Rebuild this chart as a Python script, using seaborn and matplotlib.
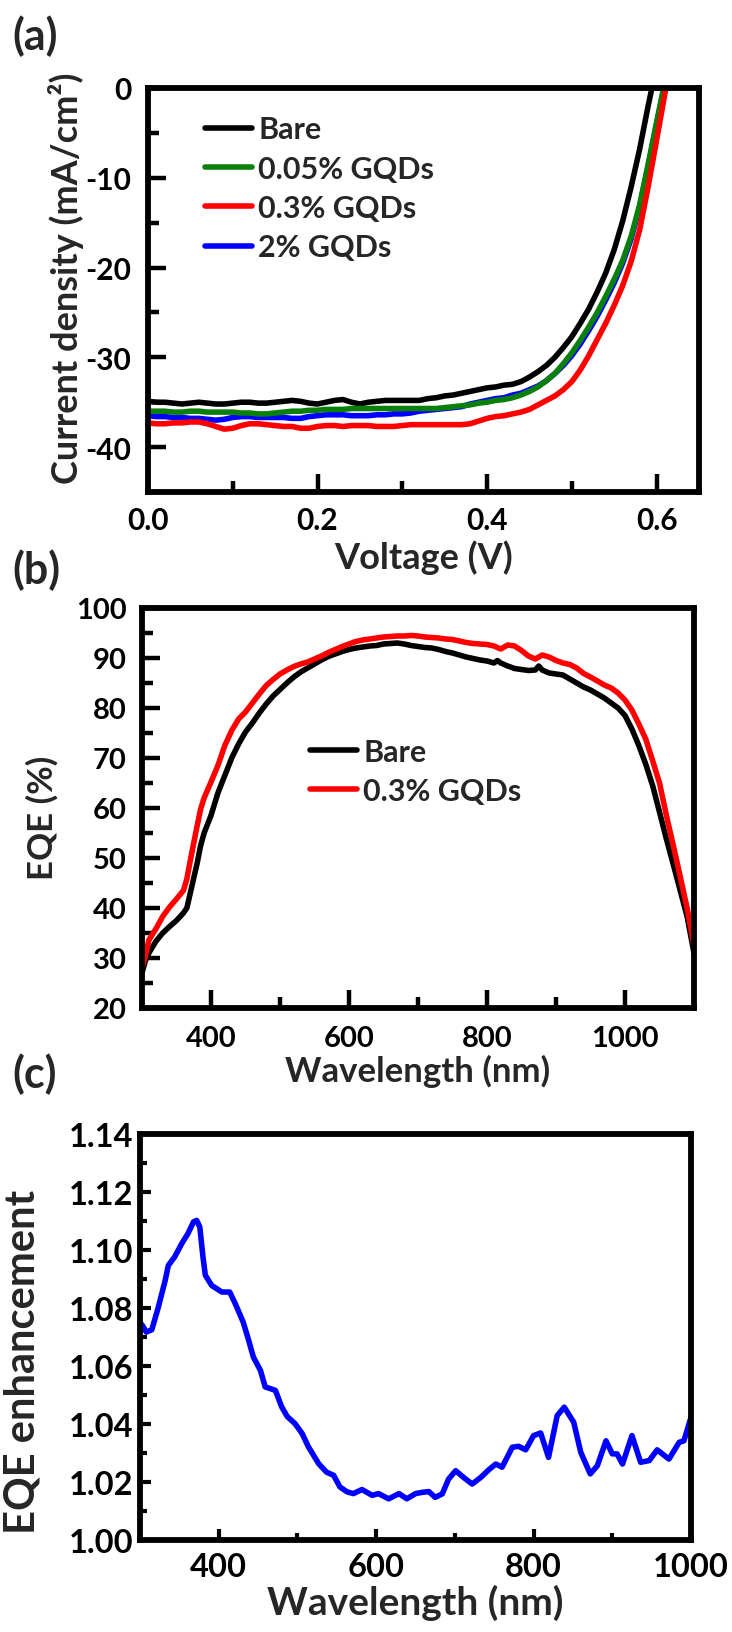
import matplotlib
matplotlib.use("Agg")
import matplotlib.pyplot as plt
import seaborn as sns
import pandas as pd
from matplotlib.ticker import MultipleLocator, FixedLocator, FormatStrFormatter

# ---------------- Panel (a): J-V curves ----------------
voltage = [0.00, 0.01, 0.02, 0.03, 0.04, 0.05, 0.06, 0.07, 0.08, 0.09,
           0.10, 0.11, 0.12, 0.13, 0.14, 0.15, 0.16, 0.17, 0.18, 0.19,
           0.20, 0.21, 0.22, 0.23, 0.24, 0.25, 0.26, 0.27, 0.28, 0.29,
           0.30, 0.31, 0.32, 0.33, 0.34, 0.35, 0.36, 0.37, 0.38, 0.39,
           0.40, 0.41, 0.42, 0.43, 0.44, 0.45, 0.46, 0.47, 0.48, 0.49,
           0.50, 0.51, 0.52, 0.53, 0.54, 0.55, 0.56, 0.57, 0.58, 0.59,
           0.60, 0.61, 0.62]

j_bare = [-34.9, -35.0, -35.0, -35.1, -35.2, -35.1, -35.0, -35.1, -35.2, -35.2,
          -35.1, -35.0, -35.0, -35.1, -35.1, -35.0, -34.9, -34.8, -34.9, -35.1,
          -35.2, -35.0, -34.8, -34.7, -35.0, -35.2, -35.0, -34.9, -34.8, -34.8,
          -34.8, -34.8, -34.8, -34.6, -34.5, -34.3, -34.2, -34.0, -33.8, -33.6,
          -33.4, -33.3, -33.1, -33.0, -32.7, -32.2, -31.6, -30.9, -30.0, -28.9,
          -27.7, -26.2, -24.6, -22.7, -20.6, -18.0, -14.8, -11.0, -6.8, -2.0,
          2.5, 7.0, 11.5]

j_005 = [-36.0, -36.0, -36.0, -36.1, -36.1, -36.0, -36.0, -36.1, -36.1, -36.1,
         -36.1, -36.2, -36.2, -36.3, -36.3, -36.2, -36.1, -36.0, -36.0, -35.9,
         -35.9, -35.8, -35.8, -35.8, -35.7, -35.7, -35.7, -35.7, -35.7, -35.7,
         -35.7, -35.7, -35.7, -35.7, -35.7, -35.6, -35.5, -35.4, -35.3, -35.1,
         -35.0, -34.8, -34.7, -34.5, -34.2, -33.8, -33.3, -32.6, -31.8, -30.7,
         -29.5, -28.1, -26.6, -25.0, -23.2, -21.3, -19.2, -16.5, -13.0, -8.5,
         -3.8, 0.8, 5.5]

j_03 = [-37.3, -37.4, -37.4, -37.3, -37.3, -37.2, -37.2, -37.4, -37.7, -38.0,
        -37.9, -37.6, -37.4, -37.4, -37.5, -37.6, -37.7, -37.7, -37.9, -37.9,
        -37.7, -37.6, -37.6, -37.7, -37.6, -37.6, -37.6, -37.7, -37.7, -37.7,
        -37.6, -37.5, -37.5, -37.5, -37.5, -37.5, -37.5, -37.5, -37.4, -37.1,
        -36.8, -36.6, -36.5, -36.3, -36.1, -35.8, -35.3, -34.8, -34.3, -33.6,
        -32.7, -31.4, -29.8, -28.0, -26.2, -24.2, -22.0, -19.3, -15.8, -11.0,
        -5.8, -0.5, 4.5]

j_2 = [-36.5, -36.6, -36.6, -36.7, -36.7, -36.8, -36.8, -36.9, -37.0, -36.9,
       -36.7, -36.6, -36.6, -36.7, -36.7, -36.7, -36.7, -36.8, -36.8, -36.6,
       -36.5, -36.4, -36.4, -36.4, -36.5, -36.5, -36.5, -36.4, -36.4, -36.3,
       -36.3, -36.2, -36.0, -35.9, -35.8, -35.7, -35.6, -35.5, -35.2, -35.0,
       -34.8, -34.6, -34.5, -34.2, -34.0, -33.6, -33.2, -32.6, -31.8, -30.9,
       -29.8, -28.5, -27.0, -25.4, -23.6, -21.7, -19.5, -16.8, -13.2, -8.7,
       -4.0, 0.6, 5.2]

# ---------------- Panel (b): EQE ----------------
wl_b = [300, 305, 310, 320, 330, 340, 350, 360, 365, 370, 375, 380, 385, 390,
        400, 410, 420, 430, 440, 450, 460, 470, 480, 490, 500, 510, 520, 530,
        540, 550, 560, 570, 580, 590, 600, 610, 620, 630, 640, 650, 660, 670,
        680, 690, 700, 710, 720, 730, 740, 750, 760, 770, 780, 790, 800, 810,
        815, 820, 830, 840, 850, 860, 870, 875, 880, 890, 900, 910, 920, 930,
        940, 950, 960, 970, 980, 990, 1000, 1010, 1020, 1030, 1040, 1050, 1060,
        1070, 1080, 1090, 1100]

eqe_bare = [27.0, 29.5, 31.0, 33.3, 35.0, 36.3, 37.5, 39.0, 40.0, 43.0, 46.0, 49.0, 52.5, 55.0,
            58.5, 63.0, 66.5, 70.0, 72.8, 75.2, 77.0, 79.0, 80.8, 82.4, 83.7, 85.0, 86.2, 87.2,
            88.0, 88.8, 89.6, 90.3, 90.8, 91.3, 91.7, 92.0, 92.2, 92.4, 92.5, 92.8, 92.9, 93.0,
            92.8, 92.5, 92.3, 92.1, 92.0, 91.7, 91.3, 91.0, 90.6, 90.2, 89.9, 89.6, 89.4, 89.0,
            89.5, 89.0, 88.4, 87.9, 87.7, 87.5, 87.6, 88.4, 87.6, 87.0, 86.8, 86.6, 85.8, 85.0,
            84.2, 83.6, 82.8, 82.0, 81.0, 80.0, 78.5, 75.8, 72.5, 68.8, 64.5, 59.2, 53.8,
            48.7, 43.5, 38.3, 31.0]

eqe_03 = [28.0, 30.5, 33.6, 35.8, 38.3, 40.2, 41.8, 43.5, 45.8, 49.5, 53.0, 56.5, 59.8, 62.0,
          65.2, 68.5, 72.5, 75.5, 77.8, 79.2, 81.0, 82.8, 84.5, 85.7, 86.8, 87.6, 88.3, 88.8,
          89.2, 89.8, 90.4, 91.1, 91.7, 92.3, 92.8, 93.3, 93.6, 93.8, 94.0, 94.2, 94.3, 94.4,
          94.4, 94.5, 94.4, 94.2, 94.1, 94.0, 93.8, 93.7, 93.4, 93.1, 92.9, 92.8, 92.7, 92.4,
          92.1, 91.8, 92.6, 92.4, 91.5, 90.4, 89.8, 90.2, 90.6, 90.2, 89.5, 89.0, 88.7, 88.0,
          86.9, 86.2, 85.4, 84.6, 84.0, 83.0, 81.6, 79.6, 76.8, 73.8, 69.5, 65.0, 58.5,
          52.5, 46.3, 40.0, 32.5]

# ---------------- Panel (c): EQE enhancement ----------------
wl_c = [300, 303, 308, 315, 323, 332, 336, 344, 353, 361, 368, 372, 376, 380, 383,
        391, 404, 414, 421, 431, 438, 444, 453, 459, 472, 480, 487, 497, 506, 514,
        527, 537, 546, 554, 563, 571, 582, 595, 603, 616, 629, 639, 650, 658, 667,
        675, 684, 692, 701, 711, 722, 733, 743, 752, 760, 773, 781, 790, 800, 809,
        819, 830, 839, 851, 860, 872, 881, 892, 900, 906, 913, 925, 936, 947, 957,
        972, 985, 991, 1000]

enhancement = [1.0750, 1.0740, 1.0717, 1.0725, 1.0800, 1.0895, 1.0947, 1.0976, 1.1022, 1.1057,
               1.1097, 1.1102, 1.1079, 1.0976, 1.0913, 1.0878, 1.0855, 1.0855, 1.0815, 1.0752,
               1.0689, 1.0631, 1.0585, 1.0528, 1.0516, 1.0459, 1.0426, 1.0401, 1.0367, 1.0321,
               1.0263, 1.0234, 1.0223, 1.0183, 1.0166, 1.0160, 1.0174, 1.0154, 1.0160, 1.0142,
               1.0160, 1.0142, 1.0160, 1.0164, 1.0167, 1.0147, 1.0159, 1.0210, 1.0239, 1.0216,
               1.0193, 1.0216, 1.0242, 1.0262, 1.0251, 1.0320, 1.0323, 1.0311, 1.0360, 1.0369,
               1.0285, 1.0429, 1.0458, 1.0406, 1.0302, 1.0228, 1.0256, 1.0342, 1.0297, 1.0297,
               1.0262, 1.0360, 1.0268, 1.0274, 1.0311, 1.0279, 1.0337, 1.0342, 1.0423]

# ---------------- Styling ----------------
sns.set_theme(style="white")
plt.rcParams['font.family'] = ['Lato', 'DejaVu Sans']
plt.rcParams['font.weight'] = 'bold'
plt.rcParams['axes.labelweight'] = 'bold'
plt.rcParams['axes.unicode_minus'] = False
plt.rcParams['lines.solid_capstyle'] = 'round'

W, H = 732, 1633
fig = plt.figure(figsize=(W / 100, H / 100), dpi=100)
fig.patch.set_facecolor('white')


def box(x0, y0, x1, y1):
    return [x0 / W, 1 - y1 / H, (x1 - x0) / W, (y1 - y0) / H]


ax_a = fig.add_axes(box(148, 89, 699, 493))
ax_b = fig.add_axes(box(142, 609, 694, 1009))
ax_c = fig.add_axes(box(140, 1135, 691, 1541))


def style(ax, maj, mnr, tw, lsize, xpad, ypad):
    ax.set_facecolor('white')
    ax.grid(False)
    for s in ax.spines.values():
        s.set_visible(True)
        s.set_color('black')
        s.set_linewidth(4.2)
        s.set_capstyle('projecting')
        s.set_zorder(5)
    ax.tick_params(which='both', direction='in', top=False, right=False,
                   bottom=True, left=True, color='black', width=tw)
    ax.tick_params(which='major', length=maj, labelsize=lsize, labelcolor='black')
    ax.tick_params(which='minor', length=mnr)
    ax.tick_params(axis='x', which='major', pad=xpad)
    ax.tick_params(axis='y', which='major', pad=ypad)
    for lab in ax.get_xticklabels() + ax.get_yticklabels():
        lab.set_fontweight('bold')


LW = 4.0

# Panel (a)
df_a = pd.DataFrame({'V': voltage, 'Bare': j_bare, '0.05% GQDs': j_005,
                     '0.3% GQDs': j_03, '2% GQDs': j_2})
sns.lineplot(data=df_a, x='V', y='Bare', color='black', lw=LW, ax=ax_a, label='Bare')
sns.lineplot(data=df_a, x='V', y='2% GQDs', color='#0000ff', lw=LW, ax=ax_a, label='2% GQDs')
sns.lineplot(data=df_a, x='V', y='0.05% GQDs', color='#0a800a', lw=LW, ax=ax_a, label='0.05% GQDs')
sns.lineplot(data=df_a, x='V', y='0.3% GQDs', color='#ff0000', lw=LW, ax=ax_a, label='0.3% GQDs')
ax_a.set_xlim(0, 0.65)
ax_a.set_ylim(-45, 0)
ax_a.xaxis.set_major_locator(FixedLocator([0.0, 0.2, 0.4, 0.6]))
ax_a.xaxis.set_minor_locator(FixedLocator([0.1, 0.3, 0.5]))
ax_a.xaxis.set_major_formatter(FormatStrFormatter('%.1f'))
ax_a.yaxis.set_major_locator(MultipleLocator(10))
ax_a.yaxis.set_minor_locator(MultipleLocator(5))
ax_a.yaxis.set_major_formatter(FormatStrFormatter('%d'))
style(ax_a, 13, 8, 3.2, 21.5, 10, 12)
ax_a.set_xlabel('Voltage (V)', fontsize=26, fontweight='bold', labelpad=4)
ax_a.set_ylabel('Current density (mA/cm²)', fontsize=26, fontweight='bold')
ax_a.yaxis.set_label_coords(-0.116, 0.532)
h, l = ax_a.get_legend_handles_labels()
order = ['Bare', '0.05% GQDs', '0.3% GQDs', '2% GQDs']
hd = dict(zip(l, h))
ax_a.legend([hd[k] for k in order], order, loc='upper left', bbox_to_anchor=(0.103, 0.932),
            frameon=False, prop={'weight': 'bold', 'size': 22}, handlelength=1.55,
            handletextpad=0.2, labelspacing=0.37, borderpad=0, borderaxespad=0)

# Panel (b)
df_b = pd.DataFrame({'wl': wl_b, 'Bare': eqe_bare, '0.3% GQDs': eqe_03})
sns.lineplot(data=df_b, x='wl', y='Bare', color='black', lw=LW, ax=ax_b, label='Bare')
sns.lineplot(data=df_b, x='wl', y='0.3% GQDs', color='#ff0000', lw=LW, ax=ax_b, label='0.3% GQDs')
ax_b.set_xlim(300, 1100)
ax_b.set_ylim(20, 100)
ax_b.xaxis.set_major_locator(FixedLocator([400, 600, 800, 1000]))
ax_b.xaxis.set_minor_locator(FixedLocator([500, 700, 900]))
ax_b.yaxis.set_major_locator(MultipleLocator(10))
ax_b.yaxis.set_minor_locator(MultipleLocator(5))
style(ax_b, 13, 8, 3.2, 21, 12, 11)
ax_b.set_xlabel('Wavelength (nm)', fontsize=25, fontweight='bold', labelpad=2)
ax_b.set_ylabel('EQE (%)', fontsize=25, fontweight='bold')
ax_b.yaxis.set_label_coords(-0.152, 0.4775)
ax_b.legend(loc='upper left', bbox_to_anchor=(0.304, 0.676), frameon=False,
            prop={'weight': 'bold', 'size': 22}, handlelength=1.55,
            handletextpad=0.2, labelspacing=0.37, borderpad=0, borderaxespad=0)

# Panel (c)
df_c = pd.DataFrame({'wl': wl_c, 'enh': enhancement})
sns.lineplot(data=df_c, x='wl', y='enh', color='#0000ff', lw=LW, ax=ax_c)
ax_c.set_xlim(300, 1000)
ax_c.set_ylim(1.00, 1.14)
ax_c.xaxis.set_major_locator(FixedLocator([400, 600, 800, 1000]))
ax_c.xaxis.set_minor_locator(FixedLocator([500, 700, 900]))
ax_c.yaxis.set_major_locator(MultipleLocator(0.02))
ax_c.yaxis.set_minor_locator(MultipleLocator(0.01))
ax_c.yaxis.set_major_formatter(FormatStrFormatter('%.2f'))
style(ax_c, 8, 5, 3.0, 23.5, 9, 5)
ax_c.set_xlabel('Wavelength (nm)', fontsize=28, fontweight='bold', labelpad=2)
ax_c.set_ylabel('EQE enhancement', fontsize=30, fontweight='bold')
ax_c.yaxis.set_label_coords(-0.178, 0.441)

# Panel letters
for txt, yc in [('(a)', 36), ('(b)', 570), ('(c)', 1074)]:
    fig.text(12 / W, 1 - yc / H, txt, fontsize=31, fontweight='bold', ha='left', va='center')

fig.savefig('out.png', dpi=100, facecolor='white')
